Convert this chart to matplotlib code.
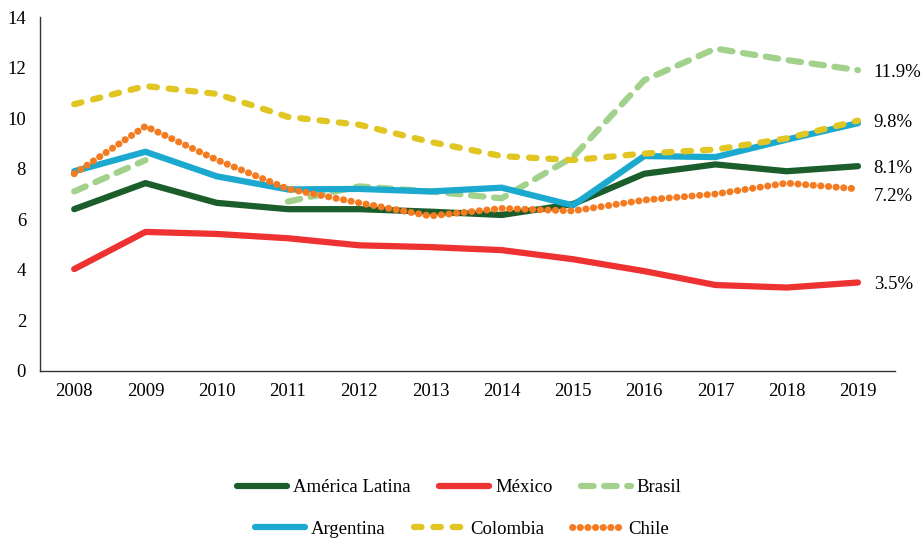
import numpy as np
import matplotlib
matplotlib.use("Agg")
import matplotlib.pyplot as plt

# datos (porcentaje)
years = ["2008", "2009", "2010", "2011", "2012", "2013",
         "2014", "2015", "2016", "2017", "2018", "2019"]

america_latina = [6.4, 7.43, 6.65, 6.4, 6.4, 6.3, 6.17, 6.6, 7.8, 8.17, 7.9, 8.1]
mexico = [4.03, 5.5, 5.42, 5.25, 4.97, 4.9, 4.78, 4.42, 3.95, 3.4, 3.3, 3.5]
brasil = [7.1, 8.34, np.nan, 6.7, 7.3, 7.1, 6.83, 8.46, 11.5, 12.75, 12.3, 11.9]
argentina = [7.9, 8.67, 7.7, 7.18, 7.2, 7.1, 7.25, 6.55, 8.5, 8.46, 9.15, 9.8]
colombia = [10.55, 11.27, 10.96, 10.05, 9.74, 9.06, 8.5, 8.34, 8.6, 8.76, 9.2, 9.9]
chile = [7.8, 9.68, 8.35, 7.2, 6.65, 6.13, 6.43, 6.33, 6.76, 7.0, 7.43, 7.2]

end_labels = ["11.9%", "9.8%", "8.1%", "7.2%", "3.5%"]
end_label_y = [11.8, 9.84, 8.0, 6.9, 3.44]

plt.rcParams['font.family'] = ['Liberation Serif', 'DejaVu Serif']

fig = plt.figure(figsize=(9.24, 5.4), dpi=100)
ax = fig.add_axes([0.0433, 0.313, 0.9253, 0.6555])

x = np.arange(len(years))
lw = 4.5

h_al, = ax.plot(x, america_latina, color="#1b5e2b", lw=lw, solid_capstyle="round",
                solid_joinstyle="round", label="América Latina")
h_mx, = ax.plot(x, mexico, color="#ee3131", lw=lw, solid_capstyle="round",
                solid_joinstyle="round", label="México")
h_br, = ax.plot(x, brasil, color="#a2d18c", lw=lw, dashes=(2.0, 1.7),
                dash_capstyle="round", label="Brasil")
h_ar, = ax.plot(x, argentina, color="#1ba9cf", lw=lw, solid_capstyle="round",
                solid_joinstyle="round", label="Argentina")
h_co, = ax.plot(x, colombia, color="#e1c522", lw=lw, dashes=(1.2, 1.9),
                dash_capstyle="round", label="Colombia")
h_ch, = ax.plot(x, chile, color="#f47b20", lw=5.0, dashes=(0.05, 1.05),
                dash_capstyle="round", label="Chile")

for txt, yy in zip(end_labels, end_label_y):
    ax.text(11.22, yy, txt, fontsize=13.5, va="center", ha="left")

ax.set_xlim(-0.48, 11.52)
ax.set_ylim(0, 14)
ax.set_yticks(range(0, 15, 2))
ax.set_xticks(x)
ax.set_xticklabels(years)
ax.tick_params(length=0, labelsize=13.5, pad=9)
ax.tick_params(axis="y", pad=10)
for s in ["top", "right"]:
    ax.spines[s].set_visible(False)
for s in ["left", "bottom"]:
    ax.spines[s].set_linewidth(1.0)
    ax.spines[s].set_color("#333333")

leg_kw = dict(loc="center", ncol=3, frameon=False, fontsize=13.5,
              handlelength=2.7, handletextpad=0.3, columnspacing=1.5)
fig.legend(handles=[h_al, h_mx, h_br], bbox_to_anchor=(0.497, 0.097), **leg_kw)
fig.legend(handles=[h_ar, h_co, h_ch], bbox_to_anchor=(0.5, 0.02), **leg_kw)

fig.savefig("out.png", dpi=100)
